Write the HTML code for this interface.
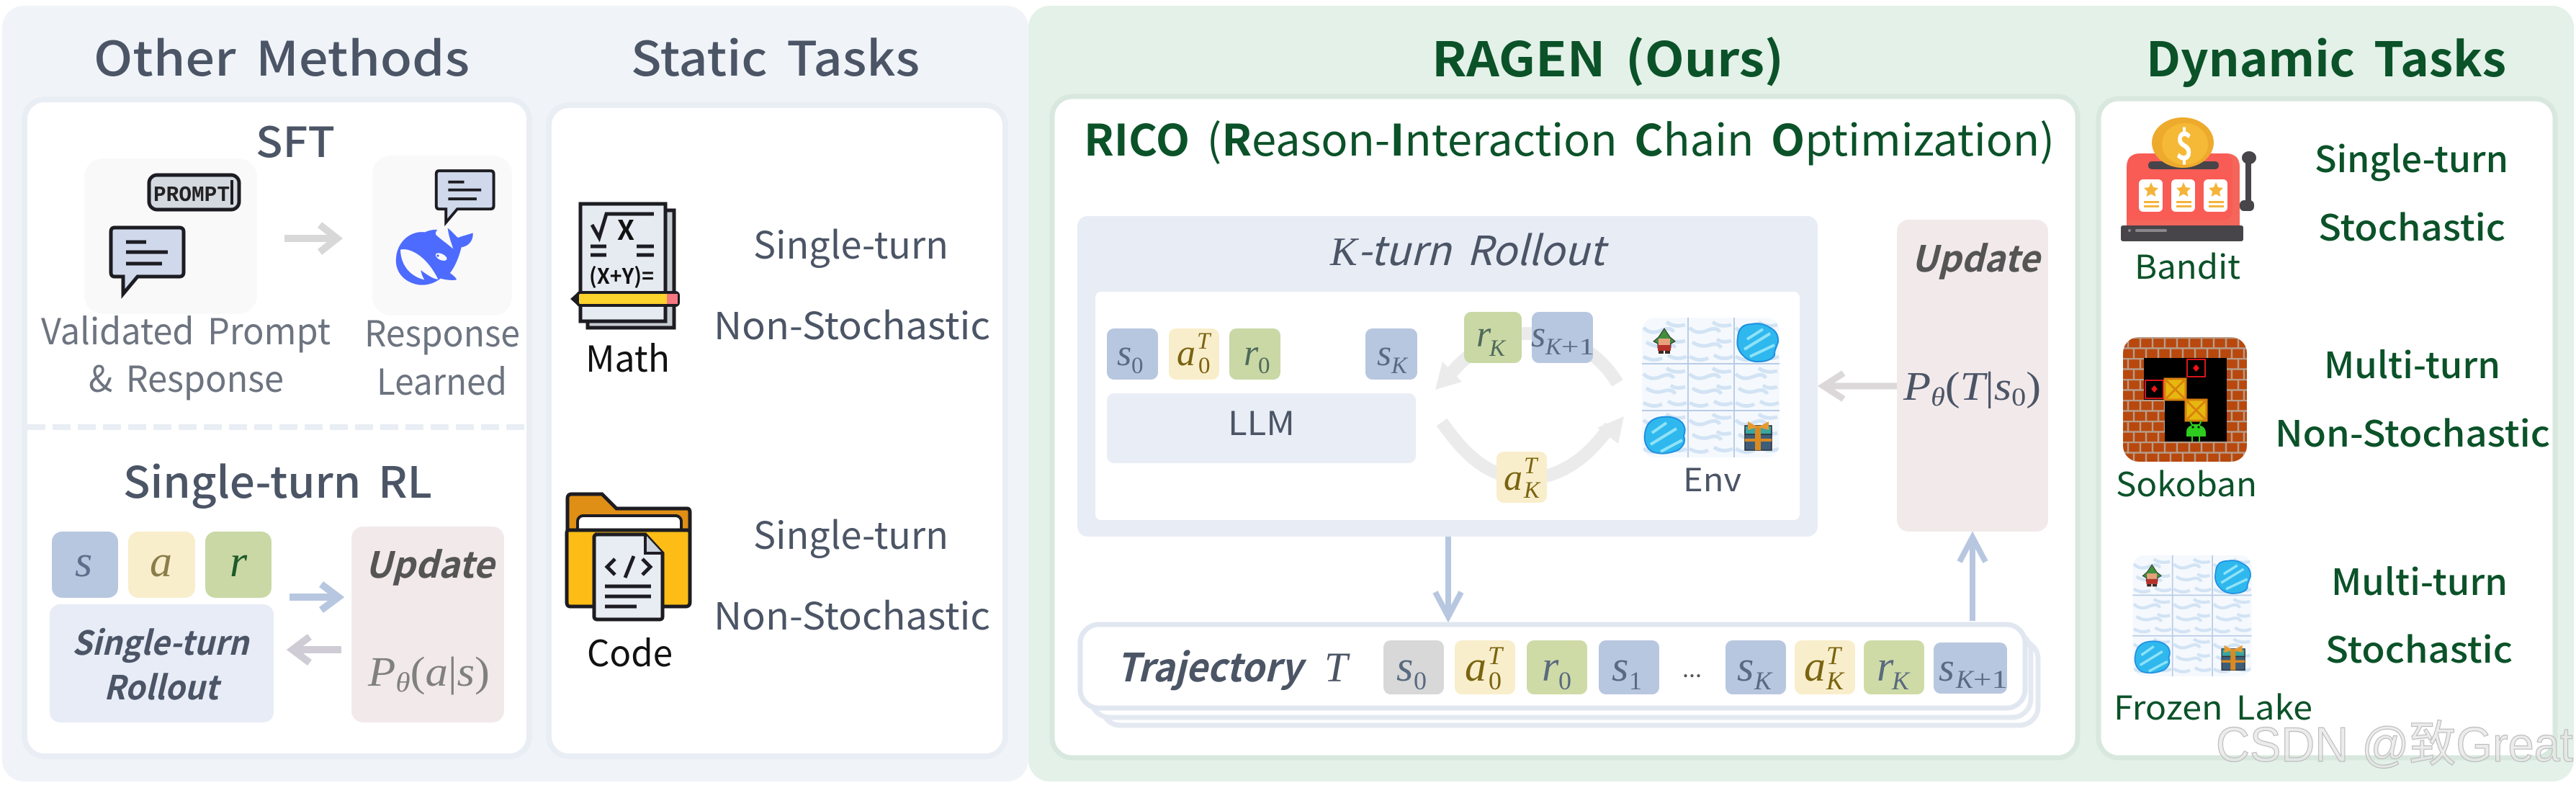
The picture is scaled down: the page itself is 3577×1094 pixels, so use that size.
<!DOCTYPE html>
<html><head><meta charset="utf-8"><style>
html,body{margin:0;padding:0;background:#fff;width:3577px;height:1094px;overflow:hidden}
svg{display:block}
text{font-family:"Noto Sans CJK KR","Liberation Sans",sans-serif;word-spacing:.16em}
.g{fill:#4b5566}.lg{fill:#6d7480}.dg{fill:#0b5229}.k{fill:#111}
.m{font-family:"Liberation Serif",serif;font-style:italic}
.u{font-family:"Liberation Serif",serif;font-style:normal}
.bi{font-weight:700;font-style:italic}
.sb{fill:#5a6a80}.sy{fill:#7a6410}.sg{fill:#4f6a5a}
</style></head><body>
<svg width="3577" height="1094" viewBox="0 0 3577 1094" xmlns="http://www.w3.org/2000/svg">
<defs>
<g id="chat"><path d="M6 4H96Q102 4 102 10V66Q102 72 96 72H38L18 96V72H6Q1 72 1 66V10Q1 4 6 4Z" fill="#d0d9ec" stroke="#1c1c22" stroke-width="5"/><path d="M22 24H50M22 38H80M22 54H72" stroke="#1c1c22" stroke-width="5"/></g>
<pattern id="bricks" patternUnits="userSpaceOnUse" x="2948" y="468" width="34" height="29">
<rect width="34" height="29" fill="#b8480d"/>
<path d="M0 1H34M0 15.5H34M7 1V15.5M24 1V15.5M15 15.5V29M32 15.5V29" stroke="#b79c88" stroke-width="2.4"/>
</pattern>
<pattern id="snow" patternUnits="userSpaceOnUse" width="64" height="64">
<rect width="64" height="64" fill="#f5f9fd"/>
<path d="M2 14q10 10 24 4t18 2M34 6q10 8 26 4M6 34q12 8 24 4t16 4M40 30q8 6 20 2M2 54q14 8 26 2M36 52q12 8 26 2" stroke="#d2e3f4" stroke-width="5" fill="none"/>
</pattern>
<symbol id="lake" viewBox="0 0 191 194">
<rect width="191" height="194" rx="18" fill="url(#snow)"/>
<path d="M64 0V194M128 0V194M0 64H191M0 129H191" stroke="#b9cce6" stroke-width="2"/>
<path d="M133 28Q134 9 152 9Q166 6 178 14Q190 20 189 34Q186 42 184 48Q186 56 172 60Q152 64 142 54Q130 44 133 28Z" fill="#2fb8ee" stroke="#1e8fe0" stroke-width="2"/>
<path d="M142 44L178 22M146 30L168 16M150 54L184 38" stroke="#8fe3f8" stroke-width="4"/>
<path d="M4 162Q6 140 28 138Q46 136 56 146Q62 154 58 164Q62 176 50 184Q30 192 14 186Q2 178 4 162Z" fill="#2fb8ee" stroke="#1e8fe0" stroke-width="2"/>
<path d="M12 176L48 154M14 160L34 146M26 186L56 170" stroke="#8fe3f8" stroke-width="4"/>
<path d="M31 15L39 27L46 33L40 36V42H22V36L16 33L23 27Z" fill="#3f8f3c" stroke="#2a2a2a" stroke-width="1"/>
<rect x="23" y="29" width="16" height="9" fill="#e8a07c"/><rect x="22" y="38" width="18" height="8" fill="#b5322a"/><rect x="23" y="46" width="7" height="4" fill="#3a2a22"/><rect x="32" y="46" width="7" height="4" fill="#3a2a22"/>
<rect x="143" y="156" width="37" height="28" fill="#3e5d78" stroke="#2a2f3a" stroke-width="1.5"/><rect x="143" y="150" width="37" height="12" fill="#3aa6a0" stroke="#2a2f3a" stroke-width="1.5"/><rect x="157" y="150" width="8" height="34" fill="#d98a22"/><rect x="143" y="168" width="37" height="4" fill="#d98a22"/><path d="M161 152L147 144V156ZM161 152L176 144V156Z" fill="#e59a32"/>
</symbol>
<clipPath id="sok"><rect x="2948" y="468" width="172" height="173" rx="22"/></clipPath>
</defs>

<!-- backgrounds -->
<rect x="3" y="8" width="1425" height="1077" rx="30" fill="#f0f4f9"/>
<rect x="1428" y="8" width="2146" height="1077" rx="30" fill="#e3f1e8"/>

<!-- left white panels -->
<rect x="34" y="138" width="701" height="912" rx="28" fill="#fff" stroke="#e9eef5" stroke-width="8"/>
<rect x="762" y="146" width="634" height="904" rx="28" fill="#fff" stroke="#e9eef5" stroke-width="8"/>

<text x="130" y="105" font-size="66" font-weight="500" class="g" textLength="522" lengthAdjust="spacingAndGlyphs">Other Methods</text>
<text x="876" y="105" font-size="66" font-weight="500" class="g" textLength="401" lengthAdjust="spacingAndGlyphs">Static Tasks</text>
<text x="355" y="218" font-size="58" font-weight="500" class="g" textLength="110" lengthAdjust="spacingAndGlyphs">SFT</text>

<!-- SFT -->
<rect x="117" y="220" width="240" height="216" rx="26" fill="#f9f9f9"/>
<rect x="517" y="216" width="194" height="222" rx="26" fill="#f9f9f9"/>
<rect x="207" y="243" width="125" height="48" rx="11" fill="#d4d9e0" stroke="#1c1c22" stroke-width="5"/>
<text x="213" y="279" font-size="31" font-weight="700" fill="#222" style="font-family:'Liberation Mono',monospace" textLength="106" lengthAdjust="spacingAndGlyphs">PROMPT</text>
<path d="M322 250V284" stroke="#1c1c22" stroke-width="4"/>
<use href="#chat" x="153" y="312"/>
<use href="#chat" transform="translate(605,234) scale(.79,.78)"/>
<path d="M395 331H466M444 312L468 331L444 350" fill="none" stroke="#d8d8d8" stroke-width="10"/>
<!-- whale -->
<g transform="translate(530,225) scale(.3333)">
<path d="M60 400C65 330 120 285 180 292C195 285 215 280 232 282C225 290 222 298 228 305C250 325 280 345 298 362C292 340 280 315 275 275C290 285 305 305 318 315C335 308 360 302 380 295C382 325 365 350 332 355C325 385 310 430 285 462C295 470 310 480 312 490C290 495 265 490 245 485C215 510 170 520 130 505C85 490 55 450 60 400Z" fill="#4d6bfe"/>
<path d="M78 365C120 355 190 395 235 488C215 488 190 470 163 450C165 462 170 478 178 490C130 480 80 440 78 365Z" fill="#fafafa"/>
<ellipse cx="248" cy="395" rx="25" ry="13" transform="rotate(25 248 395)" fill="#fafafa"/>
<circle cx="234" cy="390" r="5" fill="#4d6bfe"/>
</g>

<text x="57" y="478" font-size="50" class="lg" textLength="402" lengthAdjust="spacingAndGlyphs">Validated Prompt</text>
<text x="123" y="544" font-size="50" class="lg" textLength="271" lengthAdjust="spacingAndGlyphs">&amp; Response</text>
<text x="506" y="481" font-size="50" class="lg" textLength="216" lengthAdjust="spacingAndGlyphs">Response</text>
<text x="523" y="548" font-size="50" class="lg" textLength="181" lengthAdjust="spacingAndGlyphs">Learned</text>

<path d="M38 593H731" stroke="#e9eef5" stroke-width="8" stroke-dasharray="25 10"/>

<text x="171" y="691" font-size="60" font-weight="500" class="g" textLength="429" lengthAdjust="spacingAndGlyphs">Single-turn RL</text>

<rect x="72" y="738" width="92" height="92" rx="14" fill="#b8c7e0"/>
<rect x="178" y="738" width="93" height="92" rx="14" fill="#f9eecb"/>
<rect x="285" y="738" width="92" height="92" rx="14" fill="#c9d8a5"/>
<text x="104" y="800" font-size="62" class="m" fill="#5d6f8d">s</text>
<text x="208" y="800" font-size="62" class="m" fill="#8a7d4a">a</text>
<text x="319" y="800" font-size="62" class="m" fill="#1e5a2a">r</text>
<rect x="69" y="839" width="311" height="164" rx="14" fill="#e8ecf6"/>
<text x="100" y="909" font-size="46" class="g bi" textLength="245" lengthAdjust="spacingAndGlyphs">Single-turn</text>
<text x="144" y="971" font-size="46" class="g bi" textLength="159" lengthAdjust="spacingAndGlyphs">Rollout</text>
<rect x="488" y="731" width="212" height="272" rx="16" fill="#f2e9eb"/>
<text x="507" y="802" font-size="50" class="bi" fill="#555" textLength="179" lengthAdjust="spacingAndGlyphs">Update</text>
<text x="511" y="952" font-size="58" class="u" fill="#808080" textLength="169" lengthAdjust="spacingAndGlyphs"><tspan class="m">P</tspan><tspan font-size="38" dy="8" class="m">θ</tspan><tspan dy="-8">(</tspan><tspan class="m">a</tspan>|<tspan class="m">s</tspan>)</text>
<path d="M402 829H468M446 811L470 829L446 847" fill="none" stroke="#b8c7e0" stroke-width="10"/>
<path d="M474 902H408M430 884L406 902L430 920" fill="none" stroke="#d0ccd6" stroke-width="10"/>

<!-- Math icon -->
<rect x="816" y="292" width="120" height="163" fill="#c7ccd2" stroke="#1c1c22" stroke-width="5"/>
<rect x="806" y="283" width="118" height="163" fill="#e6ebf1" stroke="#1c1c22" stroke-width="5"/>
<path d="M822 312L832 330L842 297H908" fill="none" stroke="#1c1c22" stroke-width="5"/>
<text x="857" y="333" font-size="38" font-weight="700" fill="#111" textLength="24" lengthAdjust="spacingAndGlyphs">X</text>
<path d="M820 342H842M820 354H842M884 342H908M884 354H908" stroke="#1c1c22" stroke-width="5"/>
<text x="818" y="394" font-size="30" font-weight="700" fill="#111" textLength="90" lengthAdjust="spacingAndGlyphs">(X+Y)=</text>
<rect x="802" y="406" width="140" height="18" rx="4" fill="#fcd22c" stroke="#1c1c22" stroke-width="4"/>
<rect x="926" y="408" width="15" height="14" fill="#f5777f"/>
<path d="M802 406L792 415L802 424Z" fill="#1c1c22"/>
<text x="813" y="516" font-size="50" class="k" textLength="117" lengthAdjust="spacingAndGlyphs">Math</text>
<text x="1046" y="359" font-size="52" class="g" textLength="271" lengthAdjust="spacingAndGlyphs">Single-turn</text>
<text x="991" y="471" font-size="52" class="g" textLength="384" lengthAdjust="spacingAndGlyphs">Non-Stochastic</text>

<!-- Code icon -->
<path d="M788 745V692Q788 686 794 686H836L856 706H954Q958 706 958 712V760Z" fill="#e08f16" stroke="#1c1c22" stroke-width="5"/>
<rect x="802" y="716" width="144" height="40" rx="8" fill="#fff" stroke="#1c1c22" stroke-width="4"/>
<path d="M790 736H954Q958 736 958 740V836Q958 842 952 842H792Q787 842 787 836V740Q787 736 790 736Z" fill="#fdbd16" stroke="#1c1c22" stroke-width="5"/>
<path d="M826 742H896L920 768V856Q920 860 916 860H830Q825 860 825 856V746Q825 742 830 742Z" fill="#e8ecf3" stroke="#1c1c22" stroke-width="5"/>
<path d="M896 742V768H920" fill="#ccd3dd" stroke="#1c1c22" stroke-width="4"/>
<path d="M854 776L843 787L854 798M892 776L903 787L892 798M880 772L868 802" fill="none" stroke="#1c1c22" stroke-width="5"/>
<path d="M840 814H904M840 828H904M840 842H884" stroke="#1c1c22" stroke-width="5"/>
<text x="815" y="925" font-size="50" class="k" textLength="119" lengthAdjust="spacingAndGlyphs">Code</text>
<text x="1046" y="762" font-size="52" class="g" textLength="271" lengthAdjust="spacingAndGlyphs">Single-turn</text>
<text x="991" y="874" font-size="52" class="g" textLength="384" lengthAdjust="spacingAndGlyphs">Non-Stochastic</text>

<!-- Right white panels -->
<rect x="1461" y="134" width="1424" height="918" rx="28" fill="#fff" stroke="#d8e8de" stroke-width="7"/>
<rect x="2914" y="137" width="634" height="915" rx="28" fill="#fff" stroke="#d8e8de" stroke-width="7"/>

<text x="1988" y="106" font-size="66" font-weight="700" class="dg" textLength="489" lengthAdjust="spacingAndGlyphs">RAGEN (Ours)</text>
<text x="2980" y="106" font-size="66" font-weight="700" class="dg" textLength="500" lengthAdjust="spacingAndGlyphs">Dynamic Tasks</text>
<text x="1505" y="216" font-size="60" class="dg" textLength="1348" lengthAdjust="spacingAndGlyphs"><tspan font-weight="700">RICO</tspan> (<tspan font-weight="700">R</tspan>eason-<tspan font-weight="700">I</tspan>nteraction <tspan font-weight="700">C</tspan>hain <tspan font-weight="700">O</tspan>ptimization)</text>

<!-- K-turn rollout -->
<rect x="1496" y="300" width="1028" height="445" rx="14" fill="#e8ecf5"/>
<rect x="1521" y="405" width="978" height="317" rx="8" fill="#fff"/>
<text x="1847" y="368" font-size="56" class="g" font-style="italic" textLength="381" lengthAdjust="spacingAndGlyphs"><tspan class="m">K</tspan>-turn Rollout</text>

<path d="M2246 532C2200 455 2085 430 2012 522" fill="none" stroke="#ebebeb" stroke-width="18"/>
<path d="M1993 541L2003 502L2030 530Z" fill="#ebebeb"/>
<path d="M2002 586C2050 655 2090 672 2150 660C2190 648 2215 620 2236 592" fill="none" stroke="#ebebeb" stroke-width="18"/>
<path d="M2255 578L2247 616L2218 594Z" fill="#ebebeb"/>

<rect x="1537" y="456" width="71" height="71" rx="10" fill="#b8c7e0"/>
<rect x="1623" y="456" width="70" height="71" rx="10" fill="#f9eecb"/>
<rect x="1707" y="456" width="71" height="71" rx="10" fill="#c9d8a5"/>
<rect x="1896" y="456" width="72" height="71" rx="10" fill="#b8c7e0"/>
<rect x="2033" y="433" width="80" height="71" rx="10" fill="#c9d8a5"/>
<rect x="2127" y="433" width="85" height="71" rx="10" fill="#b8c7e0"/>
<rect x="2078" y="627" width="70" height="71" rx="10" fill="#f9eecb"/>
<g font-size="52">
<text x="1551" y="507" class="m sb">s</text><text x="1571" y="518" class="u sb" font-size="33">0</text>
<text x="1634" y="507" class="m sy">a</text><text x="1662" y="484" class="m sy" font-size="33">T</text><text x="1664" y="518" class="u sy" font-size="33">0</text>
<text x="1727" y="507" class="m sg">r</text><text x="1747" y="518" class="u sg" font-size="33">0</text>
<text x="1912" y="507" class="m sb">s</text><text x="1932" y="518" class="m sb" font-size="33">K</text>
<text x="2050" y="481" class="m sg">r</text><text x="2068" y="494" class="m sg" font-size="33">K</text>
<text x="2126" y="481" class="m sb">s</text><text x="2146" y="492" class="m sb" font-size="33">K</text><text x="2168" y="492" class="u sb" font-size="33" textLength="46" lengthAdjust="spacingAndGlyphs">+1</text>
<text x="2088" y="680" class="m sy">a</text><text x="2116" y="657" class="m sy" font-size="33">T</text><text x="2116" y="691" class="m sy" font-size="33">K</text>
</g>
<rect x="1537" y="546" width="429" height="97" rx="10" fill="#e9edf6"/>
<text x="1705" y="604" font-size="46" fill="#4b5566" textLength="93" lengthAdjust="spacingAndGlyphs">LLM</text>
<use href="#lake" x="2280" y="441" width="191" height="194"/>
<text x="2337" y="682" font-size="44" fill="#4b5566" textLength="81" lengthAdjust="spacingAndGlyphs">Env</text>

<!-- Update -->
<rect x="2634" y="305" width="210" height="433" rx="16" fill="#f2e9eb"/>
<text x="2654" y="377" font-size="50" class="bi" fill="#555" textLength="178" lengthAdjust="spacingAndGlyphs">Update</text>
<text x="2643" y="555" font-size="56" class="u" fill="#4b5566" textLength="191" lengthAdjust="spacingAndGlyphs"><tspan class="m">P</tspan><tspan font-size="36" dy="8" class="m">θ</tspan><tspan dy="-8">(</tspan><tspan class="m">T</tspan>|<tspan class="m">s</tspan><tspan font-size="36" dy="8">0</tspan><tspan dy="-8">)</tspan></text>
<path d="M2634 536H2536M2560 518L2532 536L2560 554" fill="none" stroke="#dcd8da" stroke-width="9"/>
<path d="M2011 745V852M1993 822L2011 856L2029 822" fill="none" stroke="#b8c7e0" stroke-width="8"/>
<path d="M2739 862V748M2721 780L2739 746L2757 780" fill="none" stroke="#b8c7e0" stroke-width="8"/>

<!-- Trajectory -->
<rect x="1530" y="889" width="1300" height="118" rx="26" fill="#fff" stroke="#e4e9f1" stroke-width="7"/>
<rect x="1515" y="878" width="1305" height="118" rx="26" fill="#fff" stroke="#e4e9f1" stroke-width="7"/>
<rect x="1500" y="867" width="1312" height="116" rx="26" fill="#fff" stroke="#e1e7f0" stroke-width="7"/>
<text x="1550" y="946" font-size="54" class="g bi" textLength="258" lengthAdjust="spacingAndGlyphs">Trajectory</text>
<text x="1839" y="946" font-size="58" class="m" fill="#4b5566">T</text>
<rect x="1921" y="889" width="84" height="75" rx="10" fill="#d8d8d8"/>
<rect x="2020" y="889" width="84" height="75" rx="10" fill="#f9eecb"/>
<rect x="2120" y="889" width="84" height="75" rx="10" fill="#cfdba6"/>
<rect x="2220" y="889" width="84" height="75" rx="10" fill="#b8c7e0"/>
<rect x="2396" y="889" width="84" height="75" rx="10" fill="#b8c7e0"/>
<rect x="2492" y="889" width="84" height="75" rx="10" fill="#f9eecb"/>
<rect x="2588" y="889" width="84" height="75" rx="10" fill="#cfdba6"/>
<rect x="2685" y="892" width="102" height="71" rx="10" fill="#b8c7e0"/>
<g font-size="60">
<text x="1939" y="945" class="m sb">s</text><text x="1963" y="957" class="u sb" font-size="36">0</text>
<text x="2034" y="945" class="m sy">a</text><text x="2066" y="922" class="m sy" font-size="36">T</text><text x="2067" y="957" class="u sy" font-size="36">0</text>
<text x="2141" y="945" class="m sb">r</text><text x="2164" y="957" class="u sb" font-size="36">0</text>
<text x="2238" y="945" class="m sb">s</text><text x="2262" y="957" class="u sb" font-size="36">1</text>
<text x="2336" y="940" font-size="36" fill="#555" class="u">...</text>
<text x="2412" y="945" class="m sb">s</text><text x="2436" y="957" class="m sb" font-size="36">K</text>
<text x="2505" y="945" class="m sy">a</text><text x="2536" y="922" class="m sy" font-size="36">T</text><text x="2536" y="957" class="m sy" font-size="36">K</text>
<text x="2606" y="945" class="m sb">r</text><text x="2627" y="957" class="m sb" font-size="36">K</text>
<text x="2692" y="945" class="m sb" font-size="56">s</text><text x="2716" y="955" class="m sb" font-size="36">K</text><text x="2740" y="955" class="u sb" font-size="36" textLength="48" lengthAdjust="spacingAndGlyphs">+1</text>
</g>

<!-- Bandit -->
<path d="M2953 313V232Q2953 213 2972 213H3090Q3110 213 3110 232V313Z" fill="#f85c55"/>
<path d="M3090 213Q3110 213 3110 232V313H2953V306H3085Q3100 306 3100 290V225Q3100 216 3090 213Z" fill="#f4655a"/>
<rect x="2983" y="224" width="98" height="11" rx="5" fill="#47444a"/>
<ellipse cx="3031" cy="198" rx="43" ry="35" fill="#eeaa2c"/><ellipse cx="3034" cy="200" rx="32" ry="29" fill="#f5b937"/>
<text x="3021" y="222" font-size="54" font-weight="700" fill="#fff" textLength="24" lengthAdjust="spacingAndGlyphs">$</text>
<rect x="2970" y="249" width="33" height="45" rx="6" fill="#fff"/><rect x="3015" y="249" width="33" height="45" rx="6" fill="#fff"/><rect x="3060" y="249" width="33" height="45" rx="6" fill="#fff"/>
<g fill="#f4b43a">
<path id="st" d="M2987 253l3 7 7 1-5 5 1.500 7-6.500-3.500-6.500 3.500 1.500-7-5-5 7-1z"/>
<path d="M3032 253l3 7 7 1-5 5 1.500 7-6.500-3.500-6.500 3.500 1.500-7-5-5 7-1z"/>
<path d="M3077 253l3 7 7 1-5 5 1.500 7-6.500-3.500-6.500 3.500 1.500-7-5-5 7-1z"/>
<path d="M2977 279h21v3h-21zM2977 285h21v3h-21zM3022 279h21v3h-21zM3022 285h21v3h-21zM3067 279h21v3h-21zM3067 285h21v3h-21z"/></g>
<rect x="3118" y="222" width="8" height="62" fill="#47444a"/>
<ellipse cx="3123" cy="219" rx="10" ry="9" fill="#47444a"/><rect x="3110" y="278" width="20" height="15" rx="6" fill="#47444a"/>
<rect x="2945" y="313" width="170" height="22" rx="3" fill="#47444a"/>
<rect x="2965" y="318" width="44" height="4" rx="2" fill="#8a878c"/><circle cx="2957" cy="320" r="2" fill="#8a878c"/>
<text x="2964" y="387" font-size="46" class="dg" textLength="147" lengthAdjust="spacingAndGlyphs">Bandit</text>
<text x="3214" y="239" font-size="50" class="dg" font-weight="500" textLength="269" lengthAdjust="spacingAndGlyphs">Single-turn</text>
<text x="3219" y="334" font-size="50" class="dg" font-weight="500" textLength="260" lengthAdjust="spacingAndGlyphs">Stochastic</text>

<!-- Sokoban -->
<rect x="2948" y="468" width="172" height="173" rx="22" fill="url(#bricks)"/>
<path d="M2977 497H3092V613H3006V555H2977Z" fill="#000"/>
<rect x="3037" y="499" width="25" height="24" fill="none" stroke="#d8141c" stroke-width="2"/><path d="M3049.500 506l4.500 5-4.500 5-4.500-5z" fill="#f0141c"/>
<rect x="2979" y="528" width="25" height="25" fill="none" stroke="#d8141c" stroke-width="2"/><path d="M2991.500 535l4.500 5-4.500 5-4.500-5z" fill="#f0141c"/>
<rect x="3006" y="526" width="29" height="29" fill="#e6b80e" stroke="#d9810f" stroke-width="3"/>
<rect x="3035" y="555" width="29" height="29" fill="#e6b80e" stroke="#d9810f" stroke-width="3"/>
<path d="M3008 528L3033 553M3033 528L3008 553M3037 557L3062 582M3062 557L3037 582" stroke="#d9810f" stroke-width="3"/>
<path d="M3041 584L3044 590H3054L3057 584M3044 606V613M3054 606V613" fill="none" stroke="#2ecc1e" stroke-width="2"/>
<path d="M3036 606V600Q3036 590 3049 590Q3062 590 3063 600V606Z" fill="#2ecc1e"/>
<circle cx="3045" cy="593" r="1.500" fill="#000"/><circle cx="3053" cy="593" r="1.500" fill="#000"/>
<text x="2938" y="689" font-size="46" class="dg" textLength="196" lengthAdjust="spacingAndGlyphs">Sokoban</text>
<text x="3227" y="525" font-size="50" class="dg" font-weight="500" textLength="245" lengthAdjust="spacingAndGlyphs">Multi-turn</text>
<text x="3159" y="620" font-size="50" class="dg" font-weight="500" textLength="382" lengthAdjust="spacingAndGlyphs">Non-Stochastic</text>

<!-- Frozen lake -->
<use href="#lake" x="2961" y="771" width="166" height="168"/>
<text x="2935" y="999" font-size="46" class="dg" textLength="276" lengthAdjust="spacingAndGlyphs">Frozen Lake</text>
<text x="3237" y="826" font-size="50" class="dg" font-weight="500" textLength="245" lengthAdjust="spacingAndGlyphs">Multi-turn</text>
<text x="3229" y="920" font-size="50" class="dg" font-weight="500" textLength="260" lengthAdjust="spacingAndGlyphs">Stochastic</text>

<!-- watermark -->
<text x="3077" y="1057" font-size="68" fill="#e6e6e6" fill-opacity=".75" stroke="#bdbdbd" stroke-width="1.2" textLength="496" lengthAdjust="spacingAndGlyphs" style="font-family:'Liberation Sans','Noto Sans CJK SC',sans-serif;word-spacing:0">CSDN @致Great</text>
</svg>
</body></html>
